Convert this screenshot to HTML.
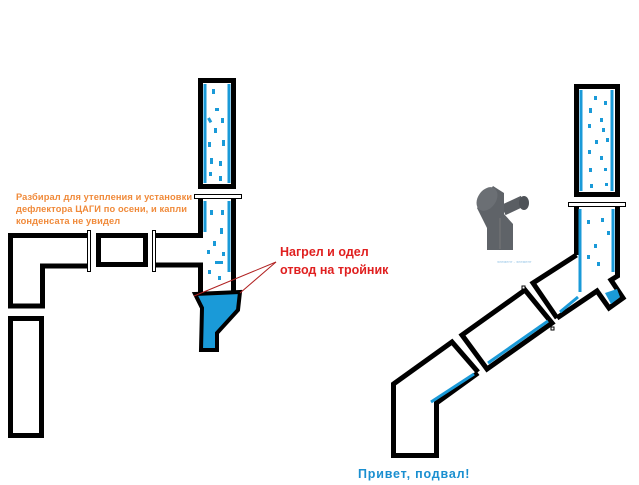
<!DOCTYPE html>
<html><head><meta charset="utf-8"><style>
body{margin:0;background:#fff;width:639px;height:485px;overflow:hidden}
svg{display:block}
</style></head><body>
<svg width="639" height="485" viewBox="0 0 639 485" xmlns="http://www.w3.org/2000/svg">
<g fill="none" stroke="#000" stroke-width="5" stroke-linejoin="miter">
<rect x="200.5" y="80.5" width="33" height="106"/>
<path d="M200.5 198 V235.5 H155"/>
<path d="M155 265 H200.5 V295"/>
<path d="M233.5 198 V296"/>
<rect x="98.5" y="235.5" width="47" height="29"/>
<path d="M88 235.5 H10.5 V306 H42.5 V266 H88"/>
<rect x="10.5" y="318.5" width="31" height="117"/>
<rect x="576.5" y="86.5" width="41" height="108"/>
<path d="M576.5 205 V255"/>
<path d="M617.5 205 V276 L611 280 L623 298 L609 308 L597 291 L557 318"/>
<path d="M576.5 255 L533 283 L557 318"/>
<polygon points="462,335 525,290 552,323 487,369"/>
<path d="M478 372 L452 342 L393.5 384 V455.5 H436.5 V403 L478 373"/>
</g>
<g stroke="#1a9ad8" stroke-width="3">
<line x1="205" y1="84" x2="205" y2="183"/><line x1="229" y1="84" x2="229" y2="183"/>
<line x1="205" y1="201" x2="205" y2="232"/><line x1="229" y1="201" x2="229" y2="272"/>
<line x1="581" y1="90" x2="581" y2="191"/><line x1="612" y1="90" x2="612" y2="191"/>
<line x1="580" y1="209" x2="580" y2="292"/><line x1="613" y1="209" x2="613" y2="272"/>
<line x1="560" y1="312" x2="578" y2="297"/>
<line x1="488" y1="363" x2="548" y2="321"/>
<line x1="431" y1="402" x2="474" y2="374"/>
</g>
<g fill="#1a9ad8">
<rect x="212" y="89" width="3" height="5"/><rect x="215" y="108" width="4" height="3"/><rect x="208" y="118" width="3" height="5" transform="rotate(-30 209 120)"/>
<rect x="221" y="118" width="3" height="5"/><rect x="214" y="128" width="3" height="5"/><rect x="208" y="142" width="3" height="5"/>
<rect x="222" y="140" width="3" height="6"/><rect x="210" y="158" width="3" height="6"/><rect x="219" y="161" width="3" height="5"/>
<rect x="209" y="172" width="3" height="4"/><rect x="219" y="176" width="3" height="5"/>
<rect x="210" y="210" width="3" height="5"/><rect x="221" y="210" width="3" height="5"/><rect x="220" y="228" width="3" height="6"/>
<rect x="213" y="241" width="3" height="5"/><rect x="207" y="250" width="3" height="4"/><rect x="222" y="252" width="3" height="4"/>
<rect x="215" y="261" width="8" height="3"/><rect x="208" y="270" width="3" height="4"/><rect x="218" y="276" width="3" height="4"/>
<rect x="594" y="96" width="3" height="4"/><rect x="604" y="101" width="3" height="4"/><rect x="589" y="108" width="3" height="5"/>
<rect x="600" y="118" width="3" height="4"/><rect x="588" y="124" width="3" height="4"/><rect x="602" y="128" width="3" height="4"/>
<rect x="595" y="140" width="3" height="4"/><rect x="606" y="138" width="3" height="4"/><rect x="588" y="150" width="3" height="4"/>
<rect x="600" y="156" width="3" height="4"/><rect x="589" y="168" width="3" height="4"/><rect x="604" y="168" width="3" height="3"/>
<rect x="590" y="184" width="3" height="4"/><rect x="605" y="183" width="3" height="3"/>
<rect x="587" y="220" width="3" height="4"/><rect x="601" y="218" width="3" height="4"/><rect x="607" y="231" width="3" height="4"/>
<rect x="594" y="244" width="3" height="4"/><rect x="587" y="255" width="3" height="4"/><rect x="597" y="262" width="3" height="4"/>
</g>
<polygon points="195,294 240,292 238,310 217,333 217,350 201,350 202,308" fill="#1a9ad8" stroke="#000" stroke-width="4"/>
<polygon points="605,293 617,289 620,297 611,304" fill="#1a9ad8"/>
<g fill="#fff" stroke="#000" stroke-width="1">
<rect x="194.5" y="194.5" width="47" height="4"/>
<rect x="87.5" y="230.5" width="3" height="41"/>
<rect x="152.5" y="230.5" width="3" height="41"/>
<rect x="568.5" y="202.5" width="57" height="4"/>
<rect x="522" y="286" width="3" height="3"/><rect x="551" y="327" width="3" height="3"/>
</g>
<g stroke="#b02020" stroke-width="1">
<line x1="276" y1="262" x2="194" y2="296"/><line x1="276" y1="262" x2="240" y2="293"/>
</g>
<g>
<rect x="502" y="200" width="22" height="11" transform="rotate(-25 513 205)" fill="#5a5e63"/>
<ellipse cx="524" cy="203" rx="5" ry="7" fill="#4e5257"/>
<path d="M477 208 L493 186 L504 193 L504 214 L513 224 L513 250 L487 250 L487 228 Z" fill="#5f6368"/>
<ellipse cx="487" cy="199" rx="13" ry="9" transform="rotate(-55 487 199)" fill="#6b6f74"/>
<line x1="500" y1="218" x2="500" y2="249" stroke="#777" stroke-width="1"/>
</g>
<text x="497" y="263" font-family="Liberation Sans, sans-serif" font-size="4" fill="#9cc8e8">элемент - элемент</text>
<text font-family="Liberation Sans, sans-serif" font-size="9.3" font-weight="bold" fill="#f08a3a" letter-spacing="0.1">
<tspan x="16" y="200">Разбирал для утепления и установки</tspan>
<tspan x="16" y="212">дефлектора ЦАГИ по осени, и капли</tspan>
<tspan x="16" y="224">конденсата не увидел</tspan>
</text>
<text font-family="Liberation Sans, sans-serif" font-size="12.5" font-weight="bold" fill="#e02020">
<tspan x="280" y="256">Нагрел и одел</tspan>
<tspan x="280" y="274">отвод на тройник</tspan>
</text>
<text x="358" y="478" font-family="Liberation Sans, sans-serif" font-size="12.5" font-weight="bold" fill="#1a8fd0" letter-spacing="0.8">Привет, подвал!</text>
</svg>
</body></html>
